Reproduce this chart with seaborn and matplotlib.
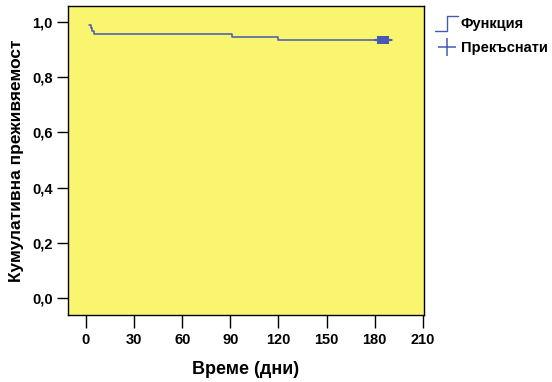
import pandas as pd
import numpy as np
import matplotlib
matplotlib.use('Agg')
import matplotlib.pyplot as plt
import seaborn as sns
from matplotlib.lines import Line2D
from matplotlib.legend_handler import HandlerBase

# Kaplan-Meier data
event_days = [2, 3, 4, 5, 91, 120, 191]
survival = [0.989, 0.978, 0.967, 0.956, 0.944, 0.933, 0.933]
censor_days = [182, 183, 184, 185, 186, 187, 188]
censor_surv = [0.933] * len(censor_days)

x_ticks = [0, 30, 60, 90, 120, 150, 180, 210]
y_ticks = [0.0, 0.2, 0.4, 0.6, 0.8, 1.0]
y_tick_labels = ['0,0', '0,2', '0,4', '0,6', '0,8', '1,0']

line_color = '#4659b3'
bg_color = '#f9f56e'

curve = pd.DataFrame({'day': event_days, 'surv': survival})
cens = pd.DataFrame({'day': censor_days, 'surv': censor_surv})

sns.set_style('white')
plt.rcParams['font.family'] = ['Liberation Sans', 'DejaVu Sans']
plt.rcParams['font.weight'] = 'bold'
plt.rcParams['text.color'] = 'black'
plt.rcParams['axes.labelcolor'] = 'black'
plt.rcParams['xtick.color'] = 'black'
plt.rcParams['ytick.color'] = 'black'

fig = plt.figure(figsize=(5.52, 3.82), dpi=100)
ax = fig.add_axes([68/552, 1-315/382, (424-68)/552, (315-6)/382])
ax.set_facecolor(bg_color)

sns.lineplot(data=curve, x='day', y='surv', ax=ax, color=line_color,
             drawstyle='steps-post', linewidth=1.1, estimator=None)
sns.scatterplot(data=cens, x='day', y='surv', ax=ax, color=line_color,
                marker='+', s=30, linewidth=1.5)

ax.set_xlim(-11.2, 210.7)
ax.set_ylim(-0.062, 1.058)
ax.set_xticks(x_ticks)
ax.set_xticklabels([str(t) for t in x_ticks], fontsize=10.5, fontweight='bold')
ax.set_yticks(y_ticks)
ax.set_yticklabels(y_tick_labels, fontsize=10.5, fontweight='bold')
ax.tick_params(axis='x', direction='out', length=9, width=1, pad=4, color='black', bottom=True)
ax.tick_params(axis='y', direction='out', length=8, width=1, pad=3, color='black', left=True)
for sp in ax.spines.values():
    sp.set_color('black')
    sp.set_linewidth(1)

ax.set_xlabel('Време (дни)', fontsize=13, fontweight='bold', labelpad=10)
ax.set_ylabel('Кумулативна преживяемост', fontsize=12.5, fontweight='bold', labelpad=6)


class StepHandler(HandlerBase):
    def create_artists(self, legend, orig_handle, xdescent, ydescent,
                       width, height, fontsize, trans):
        xs = np.array([0, 0.5, 0.5, 1.0]) * width - xdescent
        ys = np.array([-0.3, -0.3, 1.15, 1.15]) * height - ydescent
        ln = Line2D(xs, ys, color=line_color, linewidth=1.0)
        ln.set_transform(trans)
        return [ln]


step_handle = Line2D([], [], color=line_color)
plus_handle = Line2D([], [], color=line_color, marker='+', linestyle='none',
                     markersize=13, markeredgewidth=1.1)
fig.legend([step_handle, plus_handle], ['Функция', 'Прекъснати'],
           handler_map={step_handle: StepHandler()},
           loc='upper left', bbox_to_anchor=(435/552, 1-17/382),
           frameon=False, borderpad=0, borderaxespad=0,
           handlelength=1.6, handletextpad=0.15, labelspacing=0.7,
           prop={'size': 10.5, 'weight': 'bold'})

fig.savefig('out.png', dpi=100)
